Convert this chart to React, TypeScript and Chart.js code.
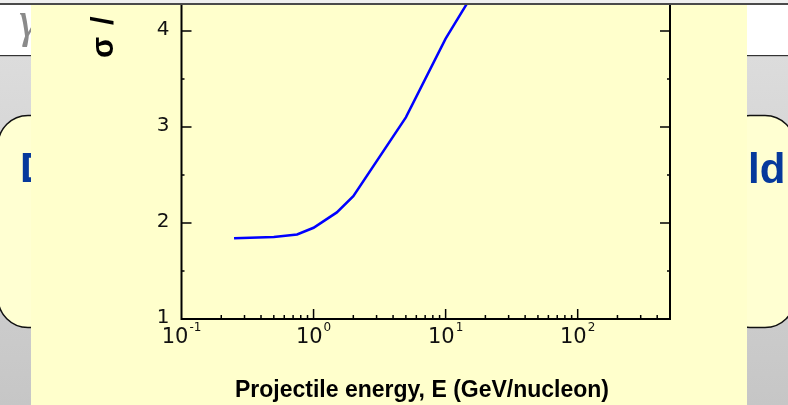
import React, { useEffect, useRef } from "react";
import { Chart, registerables } from "chart.js";

Chart.register(...registerables);

// Data
const energies = [0.25, 0.5, 0.75, 1, 1.5, 2, 5, 10, 20]; // GeV/nucleon
const ratios = [1.84, 1.855, 1.88, 1.95, 2.11, 2.28, 3.1, 3.92, 4.6];
const yMajorTicks = [1, 2, 3, 4];
const yMinorTicks = [1.5, 2.5, 3.5];
const xDecades = [-1, 0, 1, 2];
const xMinorTicks = [
  0.2, 0.3, 0.4, 0.5, 0.6, 0.7, 0.8, 0.9,
  2, 3, 4, 5, 6, 7, 8, 9,
  20, 30, 40, 50, 60, 70, 80, 90,
  200, 300, 400,
];
const xMajorTicks = [1, 10, 100];
const xTitle = "Projectile energy, E (GeV/nucleon)";
const yTitleParts = ["σ", "/", "σ₀"];

const PANEL = { x: 31, y: 5, w: 716, h: 400 };

const slidePlugin = {
  id: "slide",
  beforeDraw(chart: any) {
    const ctx = chart.ctx as CanvasRenderingContext2D;
    const W = chart.width;
    const H = chart.height;
    ctx.save();
    // top strip
    ctx.fillStyle = "#efefef";
    ctx.fillRect(0, 0, W, 3);
    ctx.fillStyle = "#4a4a4a";
    ctx.fillRect(0, 3, W, 2);
    ctx.fillStyle = "#ffffff";
    ctx.fillRect(0, 5, W, 50);
    ctx.fillStyle = "#333333";
    ctx.fillRect(0, 55, W, 1.5);
    const g = ctx.createLinearGradient(0, 56.5, 0, H);
    g.addColorStop(0, "#dcdcdc");
    g.addColorStop(1, "#c6c6c6");
    ctx.fillStyle = g;
    ctx.fillRect(0, 56.5, W, H - 56.5);
    // gamma glyph
    ctx.fillStyle = "#8a8a8a";
    ctx.font = 'italic 50px "Liberation Serif"';
    ctx.textAlign = "left";
    ctx.textBaseline = "alphabetic";
    ctx.fillText("γ", 19, 36);
    // rounded boxes
    ctx.fillStyle = "#ffffd2";
    ctx.strokeStyle = "#111111";
    ctx.lineWidth = 1.5;
    ctx.beginPath();
    (ctx as any).roundRect(-2, 115.5, 70, 212, 30);
    ctx.fill();
    ctx.stroke();
    ctx.beginPath();
    (ctx as any).roundRect(720, 115.5, 75, 212, 30);
    ctx.fill();
    ctx.stroke();
    // blue heading fragments
    ctx.fillStyle = "#06399c";
    ctx.font = 'bold 42px "Liberation Sans"';
    ctx.fillText("D", 20, 182);
    ctx.fillText("ld", 748, 182.5);
    // yellow panel
    ctx.fillStyle = "#ffffcc";
    ctx.fillRect(PANEL.x, PANEL.y, PANEL.w, PANEL.h);
    ctx.restore();
  },
  afterDraw(chart: any) {
    const ctx = chart.ctx as CanvasRenderingContext2D;
    const xs = chart.scales.x;
    const ys = chart.scales.y;
    const area = chart.chartArea;
    const L = area.left;
    const R = area.right;
    const B = area.bottom;
    const T = PANEL.y;
    ctx.save();
    ctx.beginPath();
    ctx.rect(PANEL.x, PANEL.y, PANEL.w, PANEL.h);
    ctx.clip();
    ctx.strokeStyle = "#000";
    ctx.fillStyle = "#111";
    // axis lines
    ctx.lineWidth = 2;
    ctx.beginPath();
    ctx.moveTo(L, T);
    ctx.lineTo(L, B);
    ctx.lineTo(R, B);
    ctx.lineTo(R, T);
    ctx.stroke();
    // y ticks (inward, both sides)
    ctx.lineWidth = 1.5;
    ctx.beginPath();
    for (const v of yMajorTicks) {
      const y = ys.getPixelForValue(v);
      ctx.moveTo(L, y);
      ctx.lineTo(L + 10, y);
      ctx.moveTo(R, y);
      ctx.lineTo(R - 10, y);
    }
    for (const v of yMinorTicks) {
      const y = ys.getPixelForValue(v);
      ctx.moveTo(L, y);
      ctx.lineTo(L + 3, y);
      ctx.moveTo(R, y);
      ctx.lineTo(R - 3, y);
    }
    // x ticks (inward)
    for (const v of xMajorTicks) {
      const x = xs.getPixelForValue(v);
      ctx.moveTo(x, B);
      ctx.lineTo(x, B - 10);
    }
    for (const v of xMinorTicks) {
      const x = xs.getPixelForValue(v);
      ctx.moveTo(x, B);
      ctx.lineTo(x, B - 4);
    }
    ctx.stroke();
    // y tick labels
    ctx.font = '20px "DejaVu Sans"';
    ctx.textAlign = "right";
    ctx.textBaseline = "middle";
    for (const v of yMajorTicks) {
      ctx.fillText(String(v), L - 12, ys.getPixelForValue(v) - 1);
    }
    // x tick labels: 10^n
    ctx.textAlign = "left";
    ctx.textBaseline = "alphabetic";
    for (const d of xDecades) {
      const x = xs.getPixelForValue(Math.pow(10, d));
      ctx.font = '21px "DejaVu Sans"';
      const w10 = ctx.measureText("10").width;
      ctx.font = '12px "DejaVu Sans"';
      const exp = String(d);
      const we = ctx.measureText(exp).width;
      const start = x - (w10 + we + 1) / 2;
      ctx.font = '21px "DejaVu Sans"';
      ctx.fillText("10", start, 343);
      ctx.font = '12px "DejaVu Sans"';
      ctx.fillText(exp, start + w10 + 1, 331);
    }
    // x title
    ctx.fillStyle = "#000";
    ctx.font = 'bold 23px "Liberation Sans"';
    ctx.textAlign = "center";
    ctx.fillText(xTitle, 422, 397);
    // y title (rotated, partially hidden above the panel)
    ctx.save();
    ctx.translate(113, 58);
    ctx.rotate(-Math.PI / 2);
    ctx.font = 'bold 31px "Liberation Sans"';
    ctx.textAlign = "left";
    ctx.fillText(yTitleParts[0], 0, 0);
    ctx.fillText(yTitleParts[1], 33, 0);
    ctx.fillText(yTitleParts[2], 64, 0);
    ctx.restore();
    ctx.restore();
  },
};

export default function App() {
  const canvasRef = useRef<HTMLCanvasElement | null>(null);
  useEffect(() => {
    if (!canvasRef.current) return;
    const chart = new Chart(canvasRef.current, {
      type: "line",
      data: {
        datasets: [
          {
            data: energies.map((e, i) => ({ x: e, y: ratios[i] })),
            borderColor: "#0000ff",
            borderWidth: 2.5,
            pointRadius: 0,
            tension: 0,
            fill: false,
          },
        ],
      },
      options: {
        responsive: false,
        animation: false,
        devicePixelRatio: 1,
        layout: { padding: { left: 181.5, right: 118, top: 5, bottom: 86 } },
        plugins: { legend: { display: false }, tooltip: { enabled: false } },
        scales: {
          x: { type: "logarithmic", min: 0.1, max: 500, display: false },
          y: { type: "linear", min: 1, max: 4.27, display: false },
        },
      },
      plugins: [slidePlugin],
    });
    return () => chart.destroy();
  }, []);
  return (
    <div style={{ position: "absolute", left: 0, top: 0, width: 788, height: 405 }}>
      <canvas ref={canvasRef} width={788} height={405} style={{ display: "block", width: 788, height: 405 }} />
    </div>
  );
}
